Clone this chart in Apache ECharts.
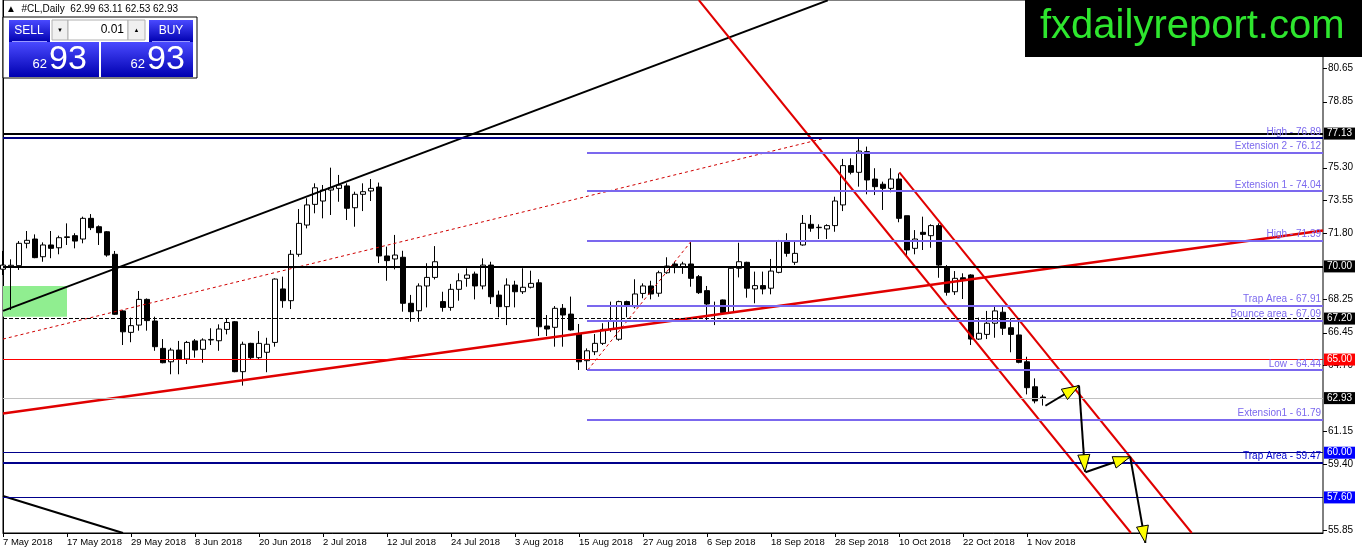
<!DOCTYPE html>
<html><head><meta charset="utf-8">
<script src="https://cdn.jsdelivr.net/npm/echarts@6/dist/echarts.min.js"></script>
<style>html,body{margin:0;padding:0;background:#fff;}#c{width:1362px;height:554px;}</style>
</head><body><div id="c"></div>
<script>
// ---- data ----
const tickLabels = ['7 May 2018','17 May 2018','29 May 2018','8 Jun 2018','20 Jun 2018','2 Jul 2018','12 Jul 2018','24 Jul 2018','3 Aug 2018','15 Aug 2018','27 Aug 2018','6 Sep 2018','18 Sep 2018','28 Sep 2018','10 Oct 2018','22 Oct 2018','1 Nov 2018'];
const yTickValues = [80.65,78.85,75.30,73.55,71.80,68.25,66.45,64.70,61.15,59.40,55.85];
// [open, high, low, close]
const ohlc = [
[69.85,70.83,69.54,70.07],[69.98,70.38,67.66,70.06],[70.04,71.36,69.81,71.24],[71.24,71.90,70.97,71.40],
[71.47,71.72,70.44,70.47],[70.52,71.29,70.25,71.15],[71.15,71.90,70.44,70.97],[71.00,71.65,70.65,71.54],
[71.55,72.31,71.15,71.59],[71.65,71.78,70.97,71.36],[71.47,72.67,71.24,72.58],[72.58,72.81,71.95,72.08],
[72.13,72.20,71.15,71.81],[71.86,71.90,70.52,70.61],[70.65,70.83,67.39,67.43],[67.61,67.65,65.78,66.49],
[66.46,67.25,65.93,66.82],[66.85,68.68,66.55,68.23],[68.23,68.28,66.55,67.09],[67.07,67.30,65.47,65.69],
[65.60,66.10,64.80,64.83],[64.88,65.63,64.21,65.51],[65.51,66.00,64.21,65.03],[65.03,66.00,64.76,65.92],
[66.00,66.10,65.10,65.51],[65.55,66.14,64.83,66.05],[66.05,66.68,65.78,66.08],[66.01,66.89,65.47,66.64],
[66.62,67.21,66.35,66.99],[67.03,67.07,64.32,64.35],[64.35,65.96,63.60,65.82],[65.87,65.90,65.03,65.10],
[65.10,66.53,65.03,65.87],[65.39,66.17,64.32,65.82],[65.92,69.36,65.69,69.32],[68.79,69.45,67.78,68.16],
[68.16,70.88,67.71,70.65],[70.65,73.08,70.52,72.31],[72.22,73.66,72.04,73.30],[73.33,74.46,72.85,74.22],
[73.51,74.37,72.58,74.10],[74.10,75.30,72.76,74.22],[74.19,74.91,73.47,74.37],[74.32,74.46,72.49,73.12],
[73.15,74.01,72.13,73.87],[73.87,74.46,72.97,74.01],[74.05,74.69,73.51,74.19],[74.26,74.50,70.18,70.56],
[70.56,71.06,69.23,70.31],[70.40,71.69,69.84,70.61],[70.49,70.84,67.57,68.02],[68.02,68.47,67.03,67.57],
[67.62,69.09,67.03,68.95],[68.95,70.17,67.80,69.41],[69.41,71.09,69.30,70.25],[68.11,68.64,67.57,67.80],
[67.80,69.06,67.62,68.77],[68.77,69.63,68.16,69.23],[69.36,69.90,68.91,69.54],[69.59,69.72,68.23,68.95],
[68.95,70.43,68.77,70.07],[70.07,70.25,67.98,68.37],[68.46,68.70,67.27,67.84],[67.84,69.36,66.85,69.00],
[69.00,69.23,67.80,68.64],[68.64,69.90,68.52,68.88],[68.88,69.77,68.82,69.09],[69.12,69.31,66.26,66.76],
[66.80,67.39,66.26,66.64],[66.73,67.87,65.69,67.75],[67.75,67.98,65.69,67.39],[67.44,68.38,66.55,66.59],
[66.37,66.91,64.44,64.88],[64.94,65.60,64.44,65.47],[65.42,66.37,65.24,65.87],[65.87,66.95,65.78,66.62],
[66.62,68.11,66.49,67.09],[66.09,68.16,66.01,68.11],[68.11,68.16,67.27,67.87],[67.84,69.31,67.75,68.52],
[68.55,69.09,68.29,68.95],[68.95,69.23,68.23,68.52],[68.56,69.77,68.37,69.66],[69.66,70.49,69.60,70.02],
[70.13,70.25,69.63,69.95],[69.95,70.25,69.60,70.13],[70.13,71.39,68.91,69.36],[69.45,69.54,68.52,68.59],
[68.70,68.95,67.03,67.98],[67.87,68.11,66.85,67.90],[68.20,68.22,67.48,67.52],[67.52,69.95,67.48,69.90],
[69.90,71.27,69.41,70.25],[70.22,70.25,68.32,68.83],[68.79,69.72,68.02,68.97],[68.97,69.72,68.50,68.79],
[68.83,70.40,68.50,69.75],[69.68,71.42,69.63,71.36],[71.36,71.78,70.52,70.70],[70.22,71.33,70.08,70.70],
[71.15,72.76,71.11,72.31],[72.26,72.76,71.86,72.05],[72.08,72.26,71.47,72.10],[72.01,72.26,71.47,72.19],
[72.19,73.74,71.86,73.51],[73.30,75.77,72.97,75.41],[75.41,75.80,74.94,75.05],[75.05,76.88,74.28,76.19],
[76.16,76.43,73.87,74.64],[74.69,75.27,73.83,74.28],[74.41,74.55,73.03,74.19],[74.19,75.27,73.98,74.69],
[74.69,74.99,72.37,72.58],[72.72,72.72,70.58,70.88],[70.97,71.95,70.65,71.47],[71.83,72.67,70.88,71.72],
[71.65,72.26,71.00,72.19],[72.19,72.31,69.39,70.07],[69.98,70.07,68.43,68.61],[68.64,69.75,68.47,69.36],
[69.39,69.63,68.25,69.27],[69.54,69.58,65.78,66.10],[66.10,67.25,66.05,66.41],[66.35,67.61,66.10,66.95],
[66.95,67.89,66.17,67.61],[67.54,67.89,66.32,66.68],[66.71,67.21,65.39,66.35],[66.32,67.21,64.80,64.85],
[64.88,65.15,63.13,63.49],[63.54,63.99,62.65,62.78],[62.99,63.11,62.53,62.93]
];
// horizontal levels: [price, startIndex, color, width, type, label, labelKind]
const levels = [
 [77.13, 0, '#000000', 2, 'solid', '77.13', 'box'],
 [76.89, 0, '#000080', 2, 'solid', 'High - 76.89', 'text'],
 [76.12, 73, '#7b68ee', 2, 'solid', 'Extension 2 - 76.12', 'text'],
 [74.04, 73, '#7b68ee', 2, 'solid', 'Extension 1 - 74.04', 'text'],
 [71.39, 73, '#7b68ee', 2, 'solid', 'High - 71.39', 'text'],
 [70.00, 0, '#000000', 2, 'solid', '70.00', 'box'],
 [67.91, 73, '#7b68ee', 2, 'solid', 'Trap Area - 67.91', 'text'],
 [67.20, 0, '#000000', 1, 'dashed', '67.20', 'box'],
 [67.09, 73, '#7b68ee', 2, 'solid', 'Bounce area - 67.09', 'text'],
 [65.00, 0, '#ff0000', 1, 'solid', '65.00', 'boxred'],
 [64.44, 73, '#7b68ee', 2, 'solid', 'Low - 64.44', 'text'],
 [62.93, 0, '#c0c0c0', 1, 'solid', '62.93', 'box'],
 [61.79, 73, '#7b68ee', 2, 'solid', 'Extension1 - 61.79', 'text'],
 [60.00, 0, '#00008b', 1, 'solid', '60.00', 'boxblue'],
 [59.47, 0, '#00008b', 2, 'solid', 'Trap Area - 59.47', 'textblue'],
 [57.60, 0, '#00008b', 1, 'solid', '57.60', 'boxblue']
];
// trendlines: [x1, p1, x2, p2, color, width, type]
const trendlines = [
 [0, 67.61, 103.1, 84.28, '#000000', 2, 'solid'],
 [0, 57.68, 15, 55.69, '#000000', 2, 'solid'],
 [0, 62.10, 165, 71.93, '#e00000', 2.5, 'solid'],
 [0, 66.10, 103.4, 76.95, '#d00000', 1, 'dashed'],
 [73.1, 64.44, 86.1, 71.39, '#d00000', 1, 'dashed'],
 [86.97, 84.30, 141.0, 55.69, '#e00000', 2, 'solid'],
 [112.04, 75.05, 148.6, 55.69, '#e00000', 2, 'solid']
];
// projection arrows: [x1, p1, x2, p2]
const arrows = [
 [130.3, 62.52, 134.5, 63.60],
 [134.5, 63.60, 135.25, 58.98],
 [135.3, 58.95, 140.9, 59.78],
 [140.9, 59.78, 142.8, 55.16]
];
const greenZone = [0, 68.95, 8, 67.30];
const TOTAL = 166;

// ---- build ----
const months = ['Jan','Feb','Mar','Apr','May','Jun','Jul','Aug','Sep','Oct','Nov','Dec'];
const cats = [];
{ const d = new Date(2018, 4, 7);
  while (cats.length < TOTAL) { const wd = d.getDay();
    if (wd !== 0 && wd !== 6) cats.push(d.getDate()+' '+months[d.getMonth()]+' '+d.getFullYear());
    d.setDate(d.getDate()+1); } }
const candleData = ohlc.map(r => [r[0], r[3], r[2], r[1]]);
const FONT = 'Liberation Sans, Arial, sans-serif';

const markLineData = levels.map(l => {
  const lab = {show:false};
  if (l[6].startsWith('box')) {
    Object.assign(lab, {show:true, position:'end', distance:1, formatter:l[5], color:'#fff',
      backgroundColor: l[6]==='boxred' ? '#ff0000' : (l[6]==='boxblue' ? '#0000ff' : '#000000'),
      padding:[1,3,0,3], fontSize:10, fontFamily:FONT, lineHeight:11});
  } else {
    Object.assign(lab, {show:true, position:'insideEndTop', distance:1, formatter:l[5],
      color: l[6]==='textblue' ? '#0000cd' : '#7b68ee', fontSize:10, fontFamily:FONT, padding:[0,1,0,0]});
  }
  return [
    {coord:[l[1], l[0]], lineStyle:{color:l[2], width:l[3], type:l[4]}, label:lab},
    {coord:[165, l[0]]}
  ];
});

const series = [];
series.push({type:'line', xAxisIndex:1, data:[], z:1, silent:true,
  markArea:{silent:true, itemStyle:{color:'#90ee90', opacity:1}, data:[[{coord:[greenZone[0],greenZone[1]]},{coord:[greenZone[2],greenZone[3]]}]]}});
series.push({type:'candlestick', xAxisIndex:0, data:candleData, barWidth:5, z:2, silent:true,
  itemStyle:{color:'#ffffff', color0:'#000000', borderColor:'#000000', borderColor0:'#000000', borderWidth:1}});
series.push({type:'line', xAxisIndex:1, data:[], z:3, silent:true,
  markLine:{silent:true, symbol:['none','none'], animation:false, data:markLineData}});
trendlines.forEach(t => series.push({type:'line', xAxisIndex:1, z:4, silent:true, clip:true, showSymbol:false,
  data:[[t[0],t[1]],[t[2],t[3]]], lineStyle:{color:t[4], width:t[5], type: t[6]==='dashed' ? [3,3] : 'solid'}}));
series.push({type:'custom', xAxisIndex:1, z:6, silent:true, clip:false, data:arrows,
  encode:{x:[0,2], y:[1,3]},
  renderItem:function(params, api){
    const p1 = api.coord([api.value(0), api.value(1)]);
    const p2 = api.coord([api.value(2), api.value(3)]);
    const dx=p2[0]-p1[0], dy=p2[1]-p1[1], L=Math.hypot(dx,dy), ux=dx/L, uy=dy/L;
    const hl=17, hw=6;
    const b=[p2[0]-ux*hl, p2[1]-uy*hl];
    const a1=[b[0]-uy*hw, b[1]+ux*hw], a2=[b[0]+uy*hw, b[1]-ux*hw];
    return {type:'group', children:[
      {type:'line', shape:{x1:p1[0],y1:p1[1],x2:p2[0],y2:p2[1]}, style:{stroke:'#000', lineWidth:2}},
      {type:'polygon', shape:{points:[p2,a1,a2]}, style:{fill:'#ffff00', stroke:'#000', lineWidth:1}}
    ]};
  }});
// right-axis tick marks at the labelled prices
series.push({type:'custom', xAxisIndex:1, z:5, silent:true, clip:false, data:yTickValues.map(v=>[165, v]),
  renderItem:function(params, api){
    const p = api.coord([api.value(0), api.value(1)]);
    const y = Math.round(p[1]) + 0.5;
    return {type:'line', shape:{x1:p[0], y1:y, x2:p[0]+4, y2:y}, style:{stroke:'#000', lineWidth:1}};
  }});

const blueGrad = {type:'linear', x:0, y:0, x2:0, y2:1, colorStops:[{offset:0,color:'#4a4aff'},{offset:1,color:'#0000b0'}]};
const graphic = [
  {type:'text', left:6, top:4, z:100, style:{text:'▲  #CL,Daily  62.99 63.11 62.53 62.93', fill:'#000', font:'10px '+FONT}},
  {type:'rect', z:100, shape:{x:3, y:17, width:194, height:61}, style:{fill:'#fff', stroke:'#000', lineWidth:1}},
  {type:'rect', z:101, shape:{x:9, y:20, width:41, height:22}, style:{fill:blueGrad}},
  {type:'rect', z:101, shape:{x:149, y:20, width:44, height:22}, style:{fill:blueGrad}},
  {type:'rect', z:101, shape:{x:9, y:42, width:90, height:35}, style:{fill:blueGrad}},
  {type:'rect', z:101, shape:{x:101, y:42, width:92, height:35}, style:{fill:blueGrad}},
  {type:'line', z:102, shape:{x1:12, y1:41.5, x2:47, y2:41.5}, style:{stroke:'#9a9aff', lineWidth:1}},
  {type:'line', z:102, shape:{x1:152, y1:41.5, x2:190, y2:41.5}, style:{stroke:'#9a9aff', lineWidth:1}},
  {type:'rect', z:101, shape:{x:52, y:20, width:16, height:20}, style:{fill:'#f0f0f0', stroke:'#b0b0b0'}},
  {type:'rect', z:101, shape:{x:68, y:20, width:60, height:20}, style:{fill:'#fff', stroke:'#b0b0b0'}},
  {type:'rect', z:101, shape:{x:128, y:20, width:17, height:20}, style:{fill:'#f0f0f0', stroke:'#b0b0b0'}},
  {type:'text', z:103, style:{x:60, y:30, text:'▼', fill:'#000', font:'6px '+FONT, align:'center', verticalAlign:'middle'}},
  {type:'text', z:103, style:{x:136.5, y:30, text:'▲', fill:'#000', font:'6px '+FONT, align:'center', verticalAlign:'middle'}},
  {type:'text', z:103, style:{x:124, y:30, text:'0.01', fill:'#000', font:'12px '+FONT, align:'right', verticalAlign:'middle'}},
  {type:'text', z:103, style:{x:29, y:31, text:'SELL', fill:'#fff', font:'12px '+FONT, align:'center', verticalAlign:'middle'}},
  {type:'text', z:103, style:{x:171, y:31, text:'BUY', fill:'#fff', font:'12px '+FONT, align:'center', verticalAlign:'middle'}},
  {type:'text', z:103, style:{x:47, y:71, text:'62', fill:'#fff', font:'13px '+FONT, align:'right', verticalAlign:'bottom'}},
  {type:'text', z:103, style:{x:49, y:77, text:'93', fill:'#fff', font:'34px '+FONT, align:'left', verticalAlign:'bottom'}},
  {type:'text', z:103, style:{x:145, y:71, text:'62', fill:'#fff', font:'13px '+FONT, align:'right', verticalAlign:'bottom'}},
  {type:'text', z:103, style:{x:147, y:77, text:'93', fill:'#fff', font:'34px '+FONT, align:'left', verticalAlign:'bottom'}},
  {type:'rect', z:100, shape:{x:1025, y:0, width:337, height:57}, style:{fill:'#000'}},
  {type:'text', z:101, style:{x:1040, y:27, text:'fxdailyreport.com', fill:'#2ee62e', font:'40px '+FONT, align:'left', verticalAlign:'middle'}}
];

const option = {
  animation:false,
  backgroundColor:'#ffffff',
  grid:{left:3, right:39, top:0, bottom:21, show:true, borderColor:'#000', borderWidth:1, backgroundColor:'transparent'},
  xAxis:[
    {type:'category', data:cats, boundaryGap:false, gridIndex:0,
     axisLine:{lineStyle:{color:'#000', width:1}},
     axisTick:{show:true, length:4, lineStyle:{color:'#000'}, interval:(i)=> i%8===0 && i/8 < tickLabels.length},
     axisLabel:{color:'#000', fontSize:9.5, fontFamily:FONT, align:'left', margin:4, showMinLabel:true,
       interval:(i)=> i%8===0 && i/8 < tickLabels.length,
       formatter:(v,i)=> (i%8===0 && i/8 < tickLabels.length) ? tickLabels[i/8] : ''},
     splitLine:{show:false}},
    {type:'value', min:0, max:165, show:false, gridIndex:0}
  ],
  yAxis:[{type:'value', position:'right', min:55.69, max:84.30,
    axisLine:{show:true, lineStyle:{color:'#000'}},
    axisTick:{show:false},
    axisLabel:{color:'#000', fontSize:10, fontFamily:FONT, margin:5, customValues:yTickValues, formatter:(v)=>v.toFixed(2)},
    splitLine:{show:false}}],
  series:series,
  graphic:graphic
};
const chart = echarts.init(document.getElementById('c'), null, {renderer:'canvas'});
chart.setOption(option);
</script></body></html>
